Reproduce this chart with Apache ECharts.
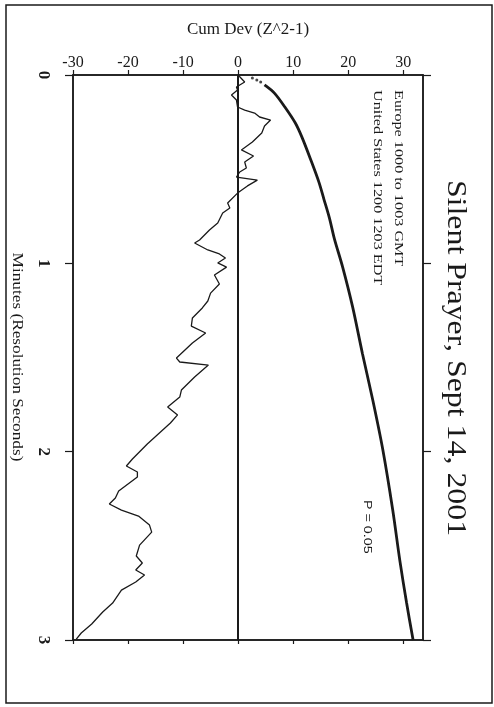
<!DOCTYPE html>
<html>
<head>
<meta charset="utf-8">
<script src="https://cdn.jsdelivr.net/npm/echarts@6/dist/echarts.min.js"></script>
<style>
  html, body { margin: 0; padding: 0; background: #ffffff; }
  #chart { width: 494px; height: 707px; }
</style>
</head>
<body>
<div id="chart"></div>
<script>
// Axis ticks
const minuteTicks = [0, 1, 2, 3];
const cumDevTicks = [-30, -20, -10, 0, 10, 20, 30];

// Observed cumulative deviation of (Z^2 - 1) over the three minutes
const observedMinutes = [
  0.000, 0.037, 0.064, 0.080, 0.106, 0.133, 0.170, 0.186, 0.202, 0.223,
  0.239, 0.271, 0.308, 0.356, 0.398, 0.430, 0.462, 0.494, 0.515, 0.542,
  0.558, 0.589, 0.627, 0.680, 0.706, 0.733, 0.786, 0.823, 0.876, 0.892,
  0.929, 0.950, 0.972, 0.998, 1.020, 1.062, 1.110, 1.158, 1.200, 1.237,
  1.290, 1.333, 1.370, 1.423, 1.503, 1.524, 1.540, 1.604, 1.673, 1.710,
  1.763, 1.805, 1.848, 1.901, 1.959, 2.039, 2.076, 2.108, 2.135, 2.209,
  2.246, 2.278, 2.310, 2.342, 2.390, 2.427, 2.496, 2.554, 2.591, 2.628,
  2.655, 2.692, 2.735, 2.804, 2.851, 2.915, 2.963, 2.995
];
const observedCumDev = [
  0.0, 1.2, -0.3, -0.1, -1.2, -0.3, -0.1, 1.2, 3.0, 3.9,
  5.9, 4.8, 4.3, 2.6, 0.6, 2.8, 1.2, 1.5, 0.3, -0.3,
  3.5, 1.7, -0.1, -1.9, -1.5, -2.8, -3.7, -5.2, -7.0, -7.9,
  -5.5, -3.4, -2.3, -3.7, -2.1, -4.3, -3.4, -5.0, -5.5, -6.5,
  -8.3, -8.5, -5.9, -8.3, -11.2, -10.6, -5.4, -7.9, -10.3, -10.6,
  -12.8, -11.0, -12.3, -14.3, -16.5, -19.2, -20.3, -18.3, -18.3, -21.7,
  -22.3, -23.4, -21.2, -18.1, -16.1, -15.7, -17.9, -18.5, -17.4, -18.6,
  -17.0, -18.6, -21.2, -22.8, -24.6, -26.6, -28.5, -29.4
];

// P = 0.05 significance envelope
const envelopeMinutes = [
  0.053, 0.096, 0.170, 0.255, 0.330, 0.450, 0.570, 0.660, 0.760, 0.870,
  1.020, 1.230, 1.480, 1.730, 1.990, 2.310, 2.580, 2.800, 3.000
];
const envelopeCumDev = [
  4.8, 6.6, 8.5, 10.4, 11.6, 13.2, 14.7, 15.6, 16.6, 17.5,
  19.0, 20.8, 22.6, 24.5, 26.3, 28.1, 29.4, 30.6, 31.8
];
// first seconds of the envelope, drawn as separate dots
const envelopeDotMinutes = [0.016, 0.027, 0.037];
const envelopeDotCumDev = [2.6, 3.4, 4.1];

const pairs = (xs, ys) => xs.map((t, i) => [ys[i], t]);

const ink = '#1a1a1a';
const serif = '"Liberation Serif", "DejaVu Serif", serif';

const chart = echarts.init(document.getElementById('chart'), null, { renderer: 'canvas' });

const xCommon = {
  type: 'value',
  min: -30,
  max: 33.6,
  splitLine: { show: false },
  axisLine: { show: true, onZero: false, lineStyle: { color: ink, width: 1.5 } }
};
const yCommon = {
  type: 'value',
  inverse: true,
  min: 0,
  max: 3,
  splitLine: { show: false },
  axisLine: { show: true, onZero: false, lineStyle: { color: ink, width: 1.5 } }
};

chart.setOption({
  animation: false,
  backgroundColor: '#ffffff',
  grid: {
    left: 73, right: 71, top: 75, bottom: 67,
    show: true, borderColor: ink, borderWidth: 1.5, backgroundColor: 'transparent'
  },
  xAxis: [
    Object.assign({}, xCommon, {
      position: 'top',
      axisTick: { show: true, inside: false, length: 5, customValues: cumDevTicks, lineStyle: { color: ink, width: 1.2 } },
      axisLabel: { show: true, customValues: cumDevTicks, margin: 4, color: ink, fontFamily: serif, fontSize: 16 },
      name: 'Cum Dev (Z^2-1)',
      nameLocation: 'middle',
      nameGap: 37,
      nameTextStyle: { color: ink, fontFamily: serif, fontSize: 17 }
    }),
    Object.assign({}, xCommon, {
      position: 'bottom',
      axisTick: { show: true, inside: false, length: 4, customValues: cumDevTicks, lineStyle: { color: ink, width: 1.2 } },
      axisLabel: { show: false }
    })
  ],
  yAxis: [
    Object.assign({}, yCommon, {
      position: 'left',
      axisTick: { show: true, inside: false, length: 8, customValues: minuteTicks, lineStyle: { color: ink, width: 1.2 } },
      axisLabel: { show: true, customValues: minuteTicks, rotate: -90, margin: 21, color: ink, fontFamily: serif, fontSize: 17, fontWeight: 'bold' }
    }),
    Object.assign({}, yCommon, {
      position: 'right',
      axisTick: { show: true, inside: false, length: 8, customValues: minuteTicks, lineStyle: { color: ink, width: 1.2 } },
      axisLabel: { show: false }
    })
  ],
  series: [
    {
      name: 'Cum Dev',
      type: 'line',
      xAxisIndex: 0,
      yAxisIndex: 0,
      data: pairs(observedMinutes, observedCumDev),
      showSymbol: false,
      lineStyle: { color: ink, width: 1.3 },
      z: 3,
      markLine: {
        silent: true,
        symbol: ['none', 'none'],
        label: { show: false },
        lineStyle: { color: ink, width: 2, type: 'solid' },
        data: [{ xAxis: 0 }]
      }
    },
    {
      name: 'P = 0.05',
      type: 'line',
      xAxisIndex: 0,
      yAxisIndex: 0,
      data: pairs(envelopeMinutes, envelopeCumDev),
      smooth: 0.3,
      showSymbol: false,
      lineStyle: { color: ink, width: 2.8 },
      z: 3
    },
    {
      name: 'P = 0.05 start',
      type: 'scatter',
      xAxisIndex: 0,
      yAxisIndex: 0,
      data: pairs(envelopeDotMinutes, envelopeDotCumDev),
      symbolSize: 3,
      itemStyle: { color: ink },
      z: 3
    }
  ],
  graphic: [
    {
      type: 'rect',
      shape: { x: 6, y: 5, width: 486, height: 698 },
      style: { fill: null, stroke: ink, lineWidth: 1.5 },
      silent: true
    },
    {
      type: 'text',
      x: 455, y: 358,
      rotation: -Math.PI / 2,
      scaleX: 1.18,
      style: { text: 'Silent Prayer, Sept 14, 2001', fill: ink, font: '27px ' + serif, align: 'center', verticalAlign: 'middle' },
      silent: true
    },
    {
      type: 'text',
      x: 17, y: 357,
      rotation: -Math.PI / 2,
      scaleX: 1.15,
      style: { text: 'Minutes (Resolution Seconds)', fill: ink, font: '15px ' + serif, align: 'center', verticalAlign: 'middle' },
      silent: true
    },
    {
      type: 'text',
      x: 398, y: 90,
      rotation: -Math.PI / 2,
      scaleX: 1.35,
      style: { text: 'Europe 1000 to 1003 GMT', fill: ink, font: '12px ' + serif, align: 'left', verticalAlign: 'middle' },
      silent: true
    },
    {
      type: 'text',
      x: 377, y: 90,
      rotation: -Math.PI / 2,
      scaleX: 1.35,
      style: { text: 'United States 1200 1203 EDT', fill: ink, font: '12px ' + serif, align: 'left', verticalAlign: 'middle' },
      silent: true
    },
    {
      type: 'text',
      x: 367, y: 500,
      rotation: -Math.PI / 2,
      scaleX: 1.3,
      style: { text: 'P = 0.05', fill: ink, font: '11px "Liberation Sans", sans-serif', align: 'left', verticalAlign: 'middle' },
      silent: true
    }
  ]
});
</script>
</body>
</html>
